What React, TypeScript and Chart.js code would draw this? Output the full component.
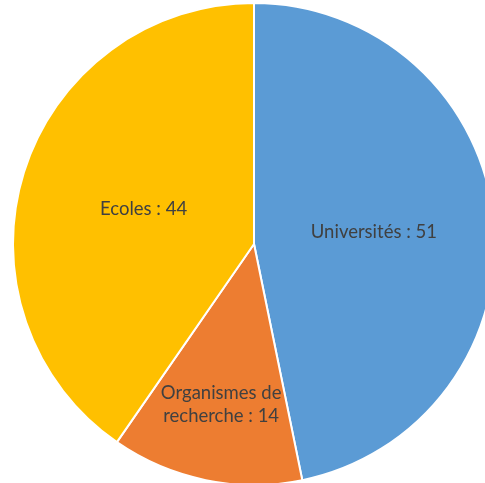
import React, { useEffect, useRef } from "react";
import { Chart, registerables } from "chart.js";

Chart.register(...registerables);

const categories = ["Universités", "Organismes de recherche", "Ecoles"];
const values = [51, 14, 44];
const colors = ["#5B9BD5", "#ED7D31", "#FFC000"];
const labelLines = [["Universités : 51"], ["Organismes de", "recherche : 14"], ["Ecoles : 44"]];
const labelRadialFraction = [0.5, 0.68, 0.48];

const labelPlugin = {
  id: "sliceLabels",
  afterDatasetsDraw(chart: any) {
    const ctx = chart.ctx;
    const meta = chart.getDatasetMeta(0);
    ctx.save();
    ctx.font = "18.5px Lato, 'Open Sans', sans-serif";
    ctx.fillStyle = "#404040";
    ctx.textAlign = "center";
    ctx.textBaseline = "middle";
    meta.data.forEach((arc: any, i: number) => {
      const { x, y, startAngle, endAngle, outerRadius } = arc.getProps(
        ["x", "y", "startAngle", "endAngle", "outerRadius"],
        true
      );
      const mid = (startAngle + endAngle) / 2;
      const r = outerRadius * labelRadialFraction[i];
      const cx = x + Math.cos(mid) * r;
      const cy = y + Math.sin(mid) * r;
      const lines = labelLines[i];
      const lh = 23;
      lines.forEach((line, j) => {
        ctx.fillText(line, cx, cy + (j - (lines.length - 1) / 2) * lh);
      });
    });
    ctx.restore();
  },
};

export default function App() {
  const ref = useRef<HTMLCanvasElement>(null);
  useEffect(() => {
    if (!ref.current) return;
    const chart = new Chart(ref.current, {
      type: "pie",
      data: {
        labels: categories,
        datasets: [
          {
            data: values,
            backgroundColor: colors,
            borderColor: "#ffffff",
            borderWidth: 2,
          },
        ],
      },
      options: {
        responsive: false,
        animation: false,
        layout: { padding: 0 },
        plugins: {
          legend: { display: false },
          tooltip: { enabled: false },
        },
      },
      plugins: [labelPlugin],
    });
    return () => chart.destroy();
  }, []);
  return (
    <div
      style={{
        position: "fixed",
        left: 0,
        top: 0,
        width: 485,
        height: 483,
        overflow: "hidden",
        background: "#fff",
      }}
    >
      <canvas
        ref={ref}
        width={484}
        height={484}
        style={{ position: "absolute", left: 12, top: 2, width: 484, height: 484 }}
      />
    </div>
  );
}
